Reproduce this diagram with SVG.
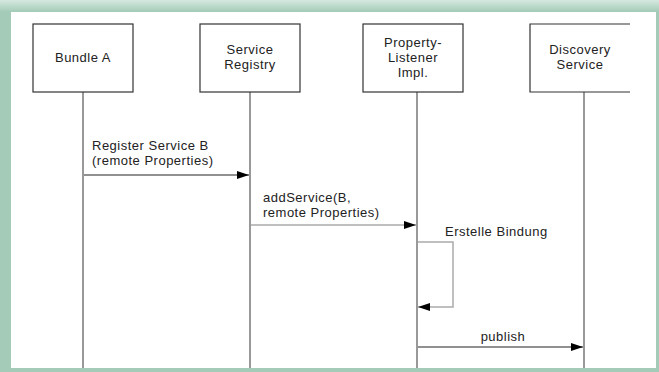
<svg xmlns="http://www.w3.org/2000/svg" width="659" height="372" viewBox="0 0 659 372">
<defs>
<linearGradient id="topg" x1="0" y1="0" x2="0" y2="1">
<stop offset="0" stop-color="#d6e9e0"/>
<stop offset="1" stop-color="#a3cbb7"/>
</linearGradient>
<marker id="ah" viewBox="0 0 12 8" refX="12" refY="4" markerWidth="12" markerHeight="8" markerUnits="userSpaceOnUse" orient="auto">
<path d="M0,0 L12,4 L0,8 Z" fill="#000"/>
</marker>
<style>
.box{fill:#fff;stroke:#333;stroke-width:1.2}
.life{stroke:#999;stroke-width:2;fill:none}
.t{font-family:"Liberation Sans",Arial,sans-serif;font-size:13px;letter-spacing:0.5px;fill:#222}
.msg{stroke:#222;stroke-width:1.2;fill:none}
.msgg{stroke:#aaa;stroke-width:1.5;fill:none}
</style>
</defs>
<rect x="0" y="0" width="659" height="372" fill="#a3cbb7"/>
<rect x="0" y="0" width="659" height="12" fill="url(#topg)"/>
<rect x="11" y="12" width="645" height="356" fill="#fff"/>
<g id="connectors">
<line class="life" x1="83" y1="92" x2="83" y2="368"/>
<line class="life" x1="250" y1="92" x2="250" y2="368"/>
<line class="life" x1="417" y1="92" x2="417" y2="368"/>
<line class="life" x1="584" y1="92" x2="584" y2="368"/>
<line class="msg" x1="84" y1="175" x2="249" y2="175" marker-end="url(#ah)"/>
<text class="t" x="92" y="150">Register Service B</text>
<text class="t" x="92" y="165">(remote Properties)</text>
<line class="msgg" x1="251" y1="225" x2="416" y2="225" marker-end="url(#ah)"/>
<text class="t" x="263" y="202">addService(B,</text>
<text class="t" x="263" y="217">remote Properties)</text>
<polyline class="msgg" points="418,242 453,242 453,307 418,307" marker-end="url(#ah)"/>
<text class="t" x="445" y="236">Erstelle Bindung</text>
<line class="msg" x1="418" y1="347" x2="583" y2="347" marker-end="url(#ah)"/>
<text class="t" x="503" y="341" text-anchor="middle">publish</text>
</g>
<g id="bundleA">
<rect class="box" x="33" y="24" width="100" height="68"/>
<text class="t" x="83" y="62" text-anchor="middle">Bundle A</text>
</g>
<g id="serviceRegistry">
<rect class="box" x="200" y="24" width="100" height="68"/>
<text class="t" x="250" y="54" text-anchor="middle">Service</text>
<text class="t" x="250" y="69" text-anchor="middle">Registry</text>
</g>
<g id="propertyListener">
<rect class="box" x="363" y="24" width="100" height="68"/>
<text class="t" x="413" y="47" text-anchor="middle">Property-</text>
<text class="t" x="413" y="62" text-anchor="middle">Listener</text>
<text class="t" x="413" y="77" text-anchor="middle">Impl.</text>
</g>
<g id="discoveryService">
<path d="M630,24 H530 V92 H630" fill="#fff" stroke="#333" stroke-width="1.2"/>
<text class="t" x="580" y="54" text-anchor="middle">Discovery</text>
<text class="t" x="580" y="69" text-anchor="middle">Service</text>
</g>
</svg>
